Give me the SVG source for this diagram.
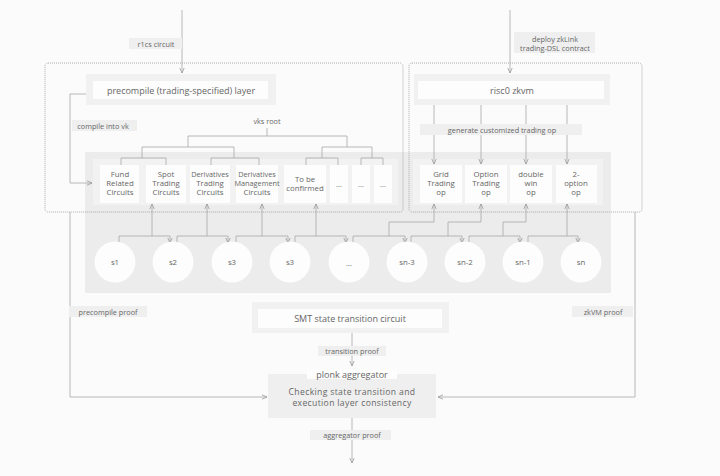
<svg xmlns="http://www.w3.org/2000/svg" width="720" height="476" viewBox="0 0 720 476">
<defs>
<marker id="a" markerUnits="userSpaceOnUse" markerWidth="6" markerHeight="6" viewBox="0 0 6 6" refX="5.5" refY="3" orient="auto">
<path d="M0.5,0.8 L5.5,3 L0.5,5.2" fill="none" stroke="#9a9a9a" stroke-width="0.8"/>
</marker>
<style>
text{font-family:"Open Sans","Liberation Sans",sans-serif;fill:#666;font-size:7.3px;text-anchor:middle;dominant-baseline:central}
.t{font-size:9px}
.c{font-size:7.8px}
.ck{font-size:8.6px;letter-spacing:0.35px}
.ln{fill:none;stroke:#a8a8a8;stroke-width:0.8}
.ar{fill:none;stroke:#a8a8a8;stroke-width:0.8;marker-end:url(#a)}
.dot{fill:none;stroke:#9a9a9a;stroke-width:0.8;stroke-dasharray:1 1}
.lbl{fill:#efefef}
.wb{fill:#fdfdfd}
.og{fill:#f1f1f1}
.cir{fill:#fdfdfd}
</style>
</defs>
<rect width="720" height="476" fill="#fbfbfb"/>

<!-- big gray panel -->
<rect x="85" y="152" width="526" height="141" fill="#ececec"/>
<rect x="93" y="159" width="305" height="46" fill="#f2f2f2"/>
<rect x="413" y="159" width="190" height="46" fill="#f2f2f2"/>

<g id="connectors">
<line class="ar" x1="182" y1="10" x2="182" y2="73"/>
<line class="ar" x1="510" y1="10" x2="510" y2="73"/>
<path class="ar" d="M86,94 H70 V183 H92"/>
<path class="ln" d="M267,128 V136 M188,147 V136 H347 V147"/>
<path class="ln" d="M142,158 V147 H234 V158 M322,158 V147 H372 V158"/>
<path class="ln" d="M121,165 V158 H166 V165 M211,165 V158 H259 V165 M306,165 V158 H338 V165 M361,165 V158 H383 V165"/>
<line class="ar" x1="434" y1="105" x2="434" y2="164"/>
<line class="ar" x1="481" y1="105" x2="481" y2="164"/>
<line class="ar" x1="526" y1="105" x2="526" y2="164"/>
<line class="ar" x1="567" y1="105" x2="567" y2="164"/>
<path class="ln" d="M119,242 V236 H170"/><line class="ar" x1="170" y1="236" x2="170" y2="243"/><line class="ar" x1="152" y1="236" x2="152" y2="204"/>
<path class="ln" d="M177,242 V236 H228"/><line class="ar" x1="228" y1="236" x2="228" y2="243"/><line class="ar" x1="207" y1="236" x2="207" y2="204"/>
<path class="ln" d="M236,242 V236 H288"/><line class="ar" x1="288" y1="236" x2="288" y2="243"/><line class="ar" x1="262" y1="236" x2="262" y2="204"/>
<path class="ln" d="M295,242 V236 H346"/><line class="ar" x1="346" y1="236" x2="346" y2="243"/><line class="ar" x1="316" y1="236" x2="316" y2="204"/>
<path class="ln" d="M353,242 V236 H405"/><line class="ar" x1="405" y1="236" x2="405" y2="243"/><path class="ar" d="M389,236 V222 H434 V204"/>
<path class="ln" d="M411,242 V236 H462"/><line class="ar" x1="462" y1="236" x2="462" y2="243"/><path class="ar" d="M448,236 V222 H481 V204"/>
<path class="ln" d="M469,242 V236 H520"/><line class="ar" x1="520" y1="236" x2="520" y2="243"/><path class="ar" d="M503,236 V222 H526 V204"/>
<path class="ln" d="M528,242 V236 H578"/><line class="ar" x1="578" y1="236" x2="578" y2="243"/><line class="ar" x1="567" y1="236" x2="567" y2="204"/>
<path class="ar" d="M70,212 V397 H267"/>
<path class="ar" d="M635,212 V397 H438"/>
<line class="ln" x1="352" y1="333" x2="352" y2="346"/>
<line class="ar" x1="352" y1="355" x2="352" y2="366"/>
<line class="ln" x1="352" y1="418" x2="352" y2="430"/>
<line class="ar" x1="352" y1="440" x2="352" y2="463"/>
</g>

<rect class="dot" x="45" y="63" width="358" height="149" rx="3"/>
<rect class="dot" x="409" y="63" width="233" height="149" rx="3"/>

<g id="lbl-r1cs"><rect class="lbl" x="129" y="38" width="53" height="11"/><text x="156" y="43.5">r1cs circuit</text></g>
<g id="lbl-deploy"><rect class="lbl" x="514" y="32" width="81" height="21"/><text x="555" y="38.5">deploy zkLink</text><text x="555" y="47.5">trading-DSL contract</text></g>
<g id="lbl-compile"><rect class="lbl" x="72" y="120" width="65" height="11"/><text x="103" y="125.5">compile into vk</text></g>
<g id="lbl-generate"><rect class="lbl" x="420" y="124" width="162" height="11"/><text x="502" y="129.5" font-size="7.6">generate customized trading op</text></g>
<g id="vks-root"><text x="267" y="120.5" font-size="8.4">vks root</text></g>

<g id="precompile-layer"><rect class="og" x="86" y="74" width="190" height="31"/><rect class="wb" x="93" y="81" width="175" height="18"/><text class="t" x="181" y="90">precompile (trading-specified) layer</text></g>
<g id="risc0"><rect class="og" x="414" y="74" width="196" height="31"/><rect class="wb" x="418" y="81" width="186" height="18"/><text class="t" x="512" y="90">risc0 zkvm</text></g>

<g id="c-fund"><rect class="wb" x="100" y="165" width="39" height="38"/><text class="c" x="120" y="174">Fund</text><text class="c" x="120" y="183">Related</text><text class="c" x="120" y="192">Circuits</text></g>
<g id="c-spot"><rect class="wb" x="146" y="165" width="40" height="38"/><text class="c" x="166" y="174">Spot</text><text class="c" x="166" y="183">Trading</text><text class="c" x="166" y="192">Circuits</text></g>
<g id="c-dt"><rect class="wb" x="190" y="165" width="40" height="38"/><text x="210" y="174" font-size="6.7">Derivatives</text><text class="c" x="210" y="183">Trading</text><text class="c" x="210" y="192">Circuits</text></g>
<g id="c-dm"><rect class="wb" x="236" y="165" width="42" height="38"/><text x="257" y="174" font-size="6.7">Derivatives</text><text x="257" y="183" font-size="6.1">Management</text><text class="c" x="257" y="192">Circuits</text></g>
<g id="c-tbc"><rect class="wb" x="284" y="165" width="42" height="38"/><text class="c" x="305" y="178.5">To be</text><text class="c" x="305" y="187.5">confirmed</text></g>
<g id="c-e1"><rect class="wb" x="330" y="165" width="18" height="38"/><text x="339" y="184">...</text></g>
<g id="c-e2"><rect class="wb" x="352" y="165" width="18" height="38"/><text x="361" y="184">...</text></g>
<g id="c-e3"><rect class="wb" x="374" y="165" width="18" height="38"/><text x="383" y="184">...</text></g>

<g id="op-grid"><rect class="wb" x="420" y="165" width="42" height="38"/><text class="c" x="441" y="174">Grid</text><text class="c" x="441" y="183">Trading</text><text class="c" x="441" y="192">op</text></g>
<g id="op-option"><rect class="wb" x="465" y="165" width="42" height="38"/><text class="c" x="486" y="174">Option</text><text class="c" x="486" y="183">Trading</text><text class="c" x="486" y="192">op</text></g>
<g id="op-double"><rect class="wb" x="510" y="165" width="42" height="38"/><text class="c" x="531" y="174">double</text><text class="c" x="531" y="183">win</text><text class="c" x="531" y="192">op</text></g>
<g id="op-2opt"><rect class="wb" x="556" y="165" width="41" height="38"/><text class="c" x="576" y="174">2-</text><text class="c" x="576" y="183">option</text><text class="c" x="576" y="192">op</text></g>

<g id="s1"><circle class="cir" cx="115" cy="262" r="20.5"/><text class="c" x="115" y="262">s1</text></g>
<g id="s2"><circle class="cir" cx="173" cy="262" r="20.5"/><text class="c" x="173" y="262">s2</text></g>
<g id="s3a"><circle class="cir" cx="232" cy="262" r="20.5"/><text class="c" x="232" y="262">s3</text></g>
<g id="s3b"><circle class="cir" cx="290" cy="262" r="20.5"/><text class="c" x="290" y="262">s3</text></g>
<g id="s-dots"><circle class="cir" cx="349" cy="262" r="20.5"/><text class="c" x="349" y="263">...</text></g>
<g id="sn3"><circle class="cir" cx="407" cy="262" r="20.5"/><text class="c" x="407" y="262">sn-3</text></g>
<g id="sn2"><circle class="cir" cx="465" cy="262" r="20.5"/><text class="c" x="465" y="262">sn-2</text></g>
<g id="sn1"><circle class="cir" cx="523" cy="262" r="20.5"/><text class="c" x="523" y="262">sn-1</text></g>
<g id="sn"><circle class="cir" cx="581" cy="262" r="20.5"/><text class="c" x="581" y="262">sn</text></g>

<g id="lbl-precompile-proof"><rect class="lbl" x="69" y="306" width="78" height="11"/><text x="108" y="311.5">precompile proof</text></g>
<g id="lbl-zkvm-proof"><rect class="lbl" x="572" y="306" width="61" height="11"/><text x="603" y="311.5">zkVM proof</text></g>

<g id="smt"><rect class="og" x="252" y="302" width="197" height="31"/><rect class="wb" x="258" y="309" width="184" height="19"/><text class="t" x="350" y="318.5">SMT state transition circuit</text></g>
<g id="lbl-transition"><rect class="lbl" x="318" y="346" width="68" height="10"/><text x="352" y="351">transition proof</text></g>

<g id="aggregator"><rect fill="#efefef" x="268" y="374" width="168" height="44"/><rect fill="#fdfdfd" x="307" y="369" width="90" height="10"/><text class="t" x="352" y="374">plonk aggregator</text><text class="ck" x="352" y="392">Checking state transition and</text><text class="ck" x="352" y="402.5">execution layer consistency</text></g>
<g id="lbl-agg-proof"><rect class="lbl" x="310" y="430" width="81" height="10"/><text x="352" y="435">aggregator proof</text></g>
</svg>
